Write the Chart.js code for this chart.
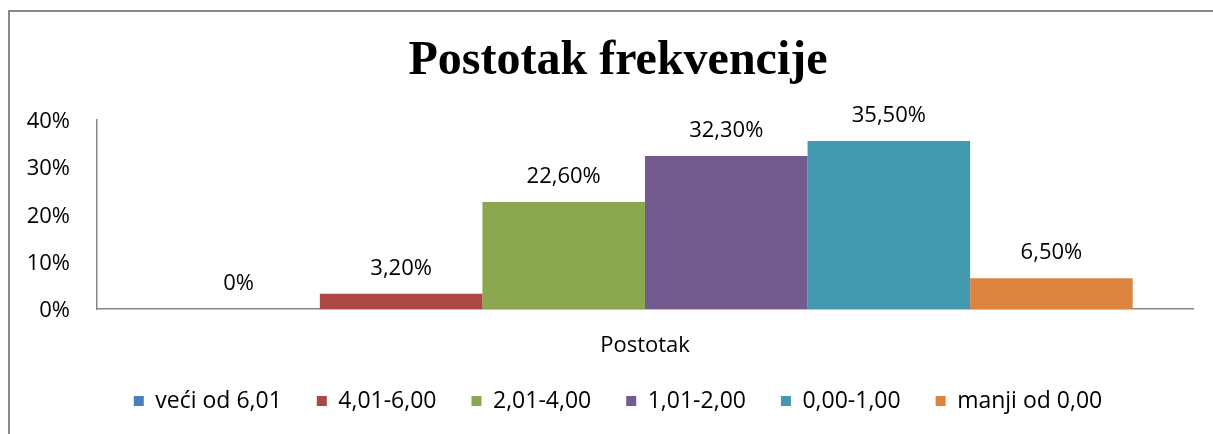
<!DOCTYPE html>
<html>
<head>
<meta charset="utf-8">
<title>Postotak frekvencije</title>
<script src="https://cdn.jsdelivr.net/npm/chart.js@4/dist/chart.umd.min.js"></script>
<style>
  html, body { margin: 0; padding: 0; background: #ffffff; }
  #wrap { width: 1213px; height: 434px; position: relative; }
</style>
</head>
<body>
<div id="wrap"><canvas id="chart" width="1213" height="434"></canvas></div>
<script>
// Category on the x axis
const categories = ['Postotak'];
// Frequency classes (one series per class)
const seriesNames = ['veći od 6,01', '4,01-6,00', '2,01-4,00', '1,01-2,00', '0,00-1,00', 'manji od 0,00'];
// Share of each class, in percent
const seriesValues = [0, 3.2, 22.6, 32.3, 35.5, 6.5];
// Y axis ticks, in percent
const yTicks = [0, 10, 20, 30, 40];

const seriesColors = ['#4A7EBB', '#AB4744', '#8BA750', '#735A8F', '#4399AF', '#DC843F'];

const BODY_FONT = "'Open Sans', 'Liberation Sans', sans-serif";
const PLOT_BOTTOM = 309;        // bottom edge of the plot area
const LEGEND_BOTTOM_PAD = 11.5; // space under the legend row

function fmtPercent(v) {
  return v === 0 ? '0%' : v.toFixed(2).replace('.', ',') + '%';
}

// Outer frame of the chart (top and left edges visible)
const framePlugin = {
  id: 'frame',
  beforeDraw(chart) {
    const ctx = chart.ctx;
    ctx.save();
    ctx.fillStyle = '#ffffff';
    ctx.fillRect(0, 0, chart.width, chart.height);
    ctx.strokeStyle = '#8a8a8a';
    ctx.lineWidth = 2;
    ctx.strokeRect(9, 11, chart.width + 40, chart.height + 40);
    ctx.restore();
  }
};

// Value labels above each bar
const valueLabelPlugin = {
  id: 'valueLabels',
  afterDatasetsDraw(chart) {
    const ctx = chart.ctx;
    ctx.save();
    ctx.font = '22px ' + BODY_FONT;
    ctx.fillStyle = '#000000';
    ctx.textAlign = 'center';
    ctx.textBaseline = 'middle';
    chart.data.datasets.forEach((ds, i) => {
      const meta = chart.getDatasetMeta(i);
      meta.data.forEach((bar, j) => {
        ctx.fillText(fmtPercent(ds.data[j]), bar.x, bar.y - 25);
      });
    });
    ctx.restore();
  }
};

const datasets = seriesNames.map((name, i) => ({
  label: name,
  data: [seriesValues[i]],
  backgroundColor: seriesColors[i],
  borderWidth: 0,
  yAxisID: 'y'
}));

new Chart(document.getElementById('chart'), {
  type: 'bar',
  data: { labels: categories, datasets },
  options: {
    responsive: false,
    animation: false,
    devicePixelRatio: 1,
    // the frame continues past the right edge, so the centred title and legend extend there too
    layout: { padding: { left: 0, right: -23, top: 0, bottom: LEGEND_BOTTOM_PAD } },
    datasets: {
      bar: { categoryPercentage: 0.89, barPercentage: 1.0 }
    },
    plugins: {
      title: {
        display: true,
        text: 'Postotak frekvencije',
        color: '#000000',
        font: { family: "'Liberation Serif', 'Times New Roman', serif", size: 48, weight: 'bold' },
        padding: { top: 33, bottom: 29 }
      },
      legend: {
        display: true,
        position: 'bottom',
        labels: {
          color: '#000000',
          font: { family: BODY_FONT, size: 23 },
          boxWidth: 10,
          boxHeight: 10,
          padding: 35
        }
      },
      tooltip: { enabled: false }
    },
    scales: {
      x: {
        afterFit(axis) {
          const chart = axis.chart;
          const legendH = chart.legend ? chart.legend.height : 0;
          axis.height = Math.max(0, chart.height - LEGEND_BOTTOM_PAD - legendH - PLOT_BOTTOM);
        },
        grid: { display: false, drawTicks: false },
        border: { display: true, color: '#868686', width: 1.5 },
        ticks: { color: '#000000', font: { family: BODY_FONT, size: 22 }, padding: 24 }
      },
      y: {
        position: 'left',
        min: yTicks[0],
        max: yTicks[yTicks.length - 1],
        afterFit(axis) { axis.width = 97; },
        grid: { display: false, drawTicks: false },
        border: { display: true, color: '#868686', width: 1.5 },
        ticks: {
          stepSize: yTicks[1] - yTicks[0],
          color: '#000000',
          font: { family: BODY_FONT, size: 22 },
          padding: 27,
          labelOffset: 2,
          callback: v => v + '%'
        }
      },
      // empty margin on the right side of the plot
      yRight: {
        type: 'linear',
        position: 'right',
        afterFit(axis) { axis.width = 43; },
        grid: { display: false, drawTicks: false },
        border: { display: false },
        ticks: { display: false }
      }
    }
  },
  plugins: [framePlugin, valueLabelPlugin]
});
</script>
</body>
</html>
